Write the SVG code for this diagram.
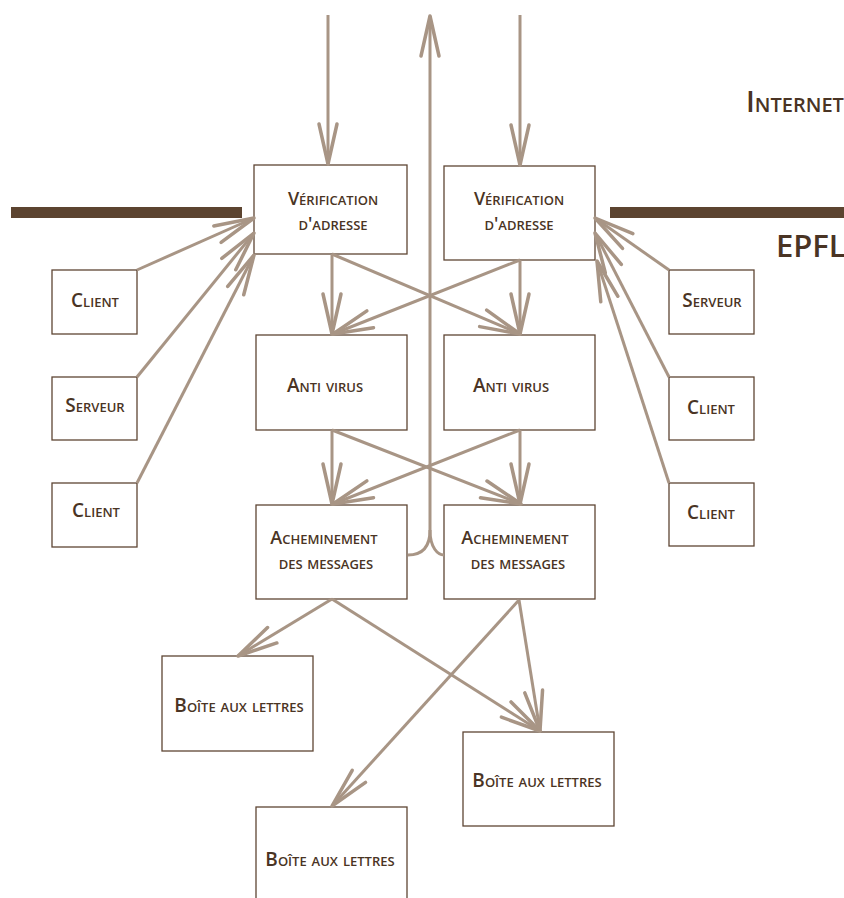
<svg xmlns="http://www.w3.org/2000/svg" width="844" height="898" viewBox="0 0 844 898">
<style>
.box{fill:#fff;stroke:#5E4634;stroke-width:1.3}
.lbl{font-family:"Open Sans","Liberation Sans",sans-serif;font-size:19px;font-weight:600;font-variant:small-caps;fill:#4A3424;text-anchor:middle}
.two{font-size:18px}
.con{fill:none;stroke:#A89585;stroke-width:3}
.bar{fill:#5C4430}
</style>
<defs>
<marker id="ah" markerUnits="userSpaceOnUse" markerWidth="50" markerHeight="30" viewBox="-45 -15 50 30" refX="0" refY="0" orient="auto">
<path d="M-40,-9 L0,0 L-40,9" fill="none" stroke="#A89585" stroke-width="3.5" stroke-linejoin="round" stroke-linecap="round"/>
</marker>
</defs>
<rect width="844" height="898" fill="#fff"/>
<rect class="bar" x="11" y="207" width="231" height="11"/>
<rect class="bar" x="610" y="207" width="234" height="11"/>
<text x="746" y="112" style="font-family:'Open Sans','Liberation Sans',sans-serif;font-size:29px;font-weight:600;font-variant:small-caps;fill:#4A3424">Internet</text>
<text x="776" y="257" style="font-family:'Open Sans','Liberation Sans',sans-serif;font-size:31px;font-weight:600;fill:#4A3424">EPFL</text>

<g id="verif1"><rect class="box" x="254" y="165" width="153" height="89"/><text class="lbl two" x="333" y="205">Vérification</text><text class="lbl two" x="333" y="230">d'adresse</text></g>
<g id="verif2"><rect class="box" x="444" y="166" width="151" height="94"/><text class="lbl two" x="519" y="205">Vérification</text><text class="lbl two" x="519" y="230">d'adresse</text></g>
<g id="av1"><rect class="box" x="256" y="335" width="151" height="95"/><text class="lbl" x="325" y="392">Anti virus</text></g>
<g id="av2"><rect class="box" x="444" y="335" width="151" height="95"/><text class="lbl" x="511" y="392">Anti virus</text></g>
<g id="ach1"><rect class="box" x="256" y="505" width="151" height="94"/><text class="lbl two" x="324" y="544">Acheminement</text><text class="lbl two" x="326" y="569">des messages</text></g>
<g id="ach2"><rect class="box" x="444" y="505" width="151" height="94"/><text class="lbl two" x="515" y="544">Acheminement</text><text class="lbl two" x="518" y="569">des messages</text></g>
<g id="bal1"><rect class="box" x="162" y="656" width="151" height="95"/><text class="lbl" x="239" y="712">Boîte aux lettres</text></g>
<g id="bal2"><rect class="box" x="463" y="732" width="151" height="94"/><text class="lbl" x="537" y="787">Boîte aux lettres</text></g>
<g id="bal3"><rect class="box" x="256" y="807" width="151" height="100"/><text class="lbl" x="330" y="866">Boîte aux lettres</text></g>
<g id="client1"><rect class="box" x="52" y="270" width="85" height="64"/><text class="lbl" x="95" y="307">Client</text></g>
<g id="serveur1"><rect class="box" x="52" y="377" width="85" height="63"/><text class="lbl" x="95" y="412">Serveur</text></g>
<g id="client2"><rect class="box" x="52" y="483" width="85" height="64"/><text class="lbl" x="96" y="517">Client</text></g>
<g id="serveur2"><rect class="box" x="669" y="270" width="85" height="64"/><text class="lbl" x="712" y="307">Serveur</text></g>
<g id="client3"><rect class="box" x="669" y="377" width="85" height="63"/><text class="lbl" x="711" y="414">Client</text></g>
<g id="client4"><rect class="box" x="669" y="483" width="85" height="63"/><text class="lbl" x="711" y="519">Client</text></g>

<g id="connectors">
<path class="con" d="M328,15 V164" marker-end="url(#ah)"/>
<path class="con" d="M520,15 V165" marker-end="url(#ah)"/>
<path class="con" d="M430,530 V16" marker-end="url(#ah)"/>
<path class="con" d="M408,555 C422,555 430,548 430,530"/>
<path class="con" d="M444,555 C438,555 430,548 430,530"/>
<path class="con" d="M332,254 V334" marker-end="url(#ah)"/>
<path class="con" d="M332,254 L520,334" marker-end="url(#ah)"/>
<path class="con" d="M520,260 V334" marker-end="url(#ah)"/>
<path class="con" d="M520,260 L333,334" marker-end="url(#ah)"/>
<path class="con" d="M332,430 V504" marker-end="url(#ah)"/>
<path class="con" d="M332,430 L521,504" marker-end="url(#ah)"/>
<path class="con" d="M520,430 V504" marker-end="url(#ah)"/>
<path class="con" d="M520,430 L333,504" marker-end="url(#ah)"/>
<path class="con" d="M332,599 L238,656" marker-end="url(#ah)"/>
<path class="con" d="M332,599 L540,731" marker-end="url(#ah)"/>
<path class="con" d="M519,600 L540,731" marker-end="url(#ah)"/>
<path class="con" d="M519,600 L332,806" marker-end="url(#ah)"/>
<path class="con" d="M137,270 L254,218" marker-end="url(#ah)"/>
<path class="con" d="M137,377 L254,233" marker-end="url(#ah)"/>
<path class="con" d="M137,483 L254,255" marker-end="url(#ah)"/>
<path class="con" d="M669,270 L595,218" marker-end="url(#ah)"/>
<path class="con" d="M669,377 L595,233" marker-end="url(#ah)"/>
<path class="con" d="M669,483 L597,261" marker-end="url(#ah)"/>
</g>
</svg>
